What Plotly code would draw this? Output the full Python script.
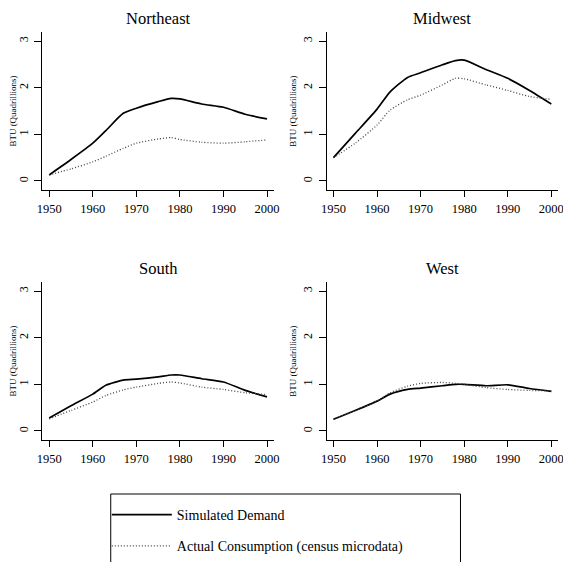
import plotly.graph_objects as go

years = [1950, 1955, 1960, 1963, 1967, 1970, 1975, 1978, 1980, 1985, 1990, 1995, 2000]
regions = ["Northeast", "Midwest", "South", "West"]

ne_sim = [0.13, 0.46, 0.81, 1.08, 1.45, 1.56, 1.70, 1.77, 1.76, 1.65, 1.58, 1.43, 1.33]
ne_act = [0.13, 0.26, 0.41, 0.53, 0.70, 0.81, 0.90, 0.93, 0.89, 0.83, 0.81, 0.84, 0.88]
mw_sim = [0.50, 1.02, 1.54, 1.91, 2.22, 2.32, 2.49, 2.58, 2.59, 2.39, 2.20, 1.94, 1.65]
mw_act = [0.50, 0.81, 1.20, 1.52, 1.74, 1.84, 2.06, 2.20, 2.19, 2.06, 1.94, 1.81, 1.75]
s_sim = [0.28, 0.54, 0.79, 0.98, 1.09, 1.11, 1.16, 1.20, 1.20, 1.12, 1.05, 0.87, 0.73]
s_act = [0.26, 0.44, 0.62, 0.76, 0.88, 0.94, 1.02, 1.05, 1.03, 0.94, 0.89, 0.82, 0.78]
w_sim = [0.25, 0.44, 0.64, 0.79, 0.89, 0.92, 0.97, 1.00, 1.00, 0.97, 0.99, 0.91, 0.85]
w_act = [0.25, 0.44, 0.64, 0.82, 0.96, 1.02, 1.04, 1.02, 1.00, 0.93, 0.89, 0.87, 0.86]

sim_series = [ne_sim, mw_sim, s_sim, w_sim]
act_series = [ne_act, mw_act, s_act, w_act]

x_ticks = [1950, 1960, 1970, 1980, 1990, 2000]
y_ticks = [0, 1, 2, 3]
legend_labels = ["Simulated Demand", "Actual Consumption (census microdata)"]
y_title = "BTU (Quadrillions)"

# page body has an 8px default margin; figure sized to fill the rest
OFF = 8
W, H = 571 - OFF, 562 - OFF
FONT = "Liberation Serif"


def px(x):
    return (x - OFF) / W


def py(y):
    return 1 - (y - OFF) / H


# panel pixel boxes in page coords: (left, right, top, bottom)
boxes = [(36, 273, 32, 190), (327, 564, 32, 190), (36, 273, 282, 440), (327, 564, 282, 440)]

fig = go.Figure()
layout = dict(
    width=W, height=H, margin=dict(l=0, r=0, t=0, b=0),
    paper_bgcolor="white", plot_bgcolor="white",
    font=dict(family=FONT, color="black"),
    showlegend=True,
)
annotations = []
for i, (l, r, t, b) in enumerate(boxes):
    xa = "x" if i == 0 else f"x{i+1}"
    ya = "y" if i == 0 else f"y{i+1}"
    fig.add_trace(go.Scatter(x=years, y=sim_series[i], mode="lines", xaxis=xa, yaxis=ya,
                             line=dict(color="black", width=1.7, shape="spline", smoothing=0.6),
                             name=legend_labels[0], legendgroup="a", showlegend=(i == 0)))
    fig.add_trace(go.Scatter(x=years, y=act_series[i], mode="lines", xaxis=xa, yaxis=ya,
                             line=dict(color="#444444", width=1.3, dash="1px,2px", shape="spline", smoothing=0.6),
                             name=legend_labels[1], legendgroup="b", showlegend=(i == 0)))
    xkey = "xaxis" if i == 0 else f"xaxis{i+1}"
    ykey = "yaxis" if i == 0 else f"yaxis{i+1}"
    layout[xkey] = dict(domain=[px(l), px(r)], range=[1948.43, 2001.57], anchor=ya,
                        tickvals=x_ticks, showgrid=False, zeroline=False, showline=True,
                        linecolor="black", linewidth=1, ticks="outside", ticklen=6,
                        tickcolor="black", ticklabelstandoff=1,
                        tickfont=dict(size=12.5, family=FONT))
    layout[ykey] = dict(domain=[py(b), py(t)], range=[-0.193, 3.193], anchor=xa,
                        tickvals=y_ticks, showgrid=False, zeroline=False, showline=True,
                        linecolor="black", linewidth=1, ticks="outside", ticklen=7,
                        tickcolor="black", tickangle=-90, ticklabelstandoff=2,
                        tickfont=dict(size=12, family=FONT),
                        title=dict(text=y_title, font=dict(size=9, family=FONT), standoff=2))
    annotations.append(dict(text=regions[i], x=px((l + r) / 2), y=py(t - 14),
                            xref="paper", yref="paper", showarrow=False,
                            font=dict(size=16.5, family=FONT), xanchor="center", yanchor="middle"))

layout["annotations"] = annotations
layout["shapes"] = [dict(type="rect", xref="paper", yref="paper",
                         x0=px(106), x1=px(464), y0=py(575), y1=py(494),
                         line=dict(color="black", width=1), fillcolor="rgba(0,0,0,0)")]
layout["legend"] = dict(x=px(102), y=py(499), xanchor="left", yanchor="top",
                        bgcolor="rgba(0,0,0,0)", borderwidth=0, itemwidth=60,
                        traceorder="grouped", tracegroupgap=10,
                        font=dict(size=14, family=FONT))
fig.update_layout(**layout)
fig.write_html("out.html")
